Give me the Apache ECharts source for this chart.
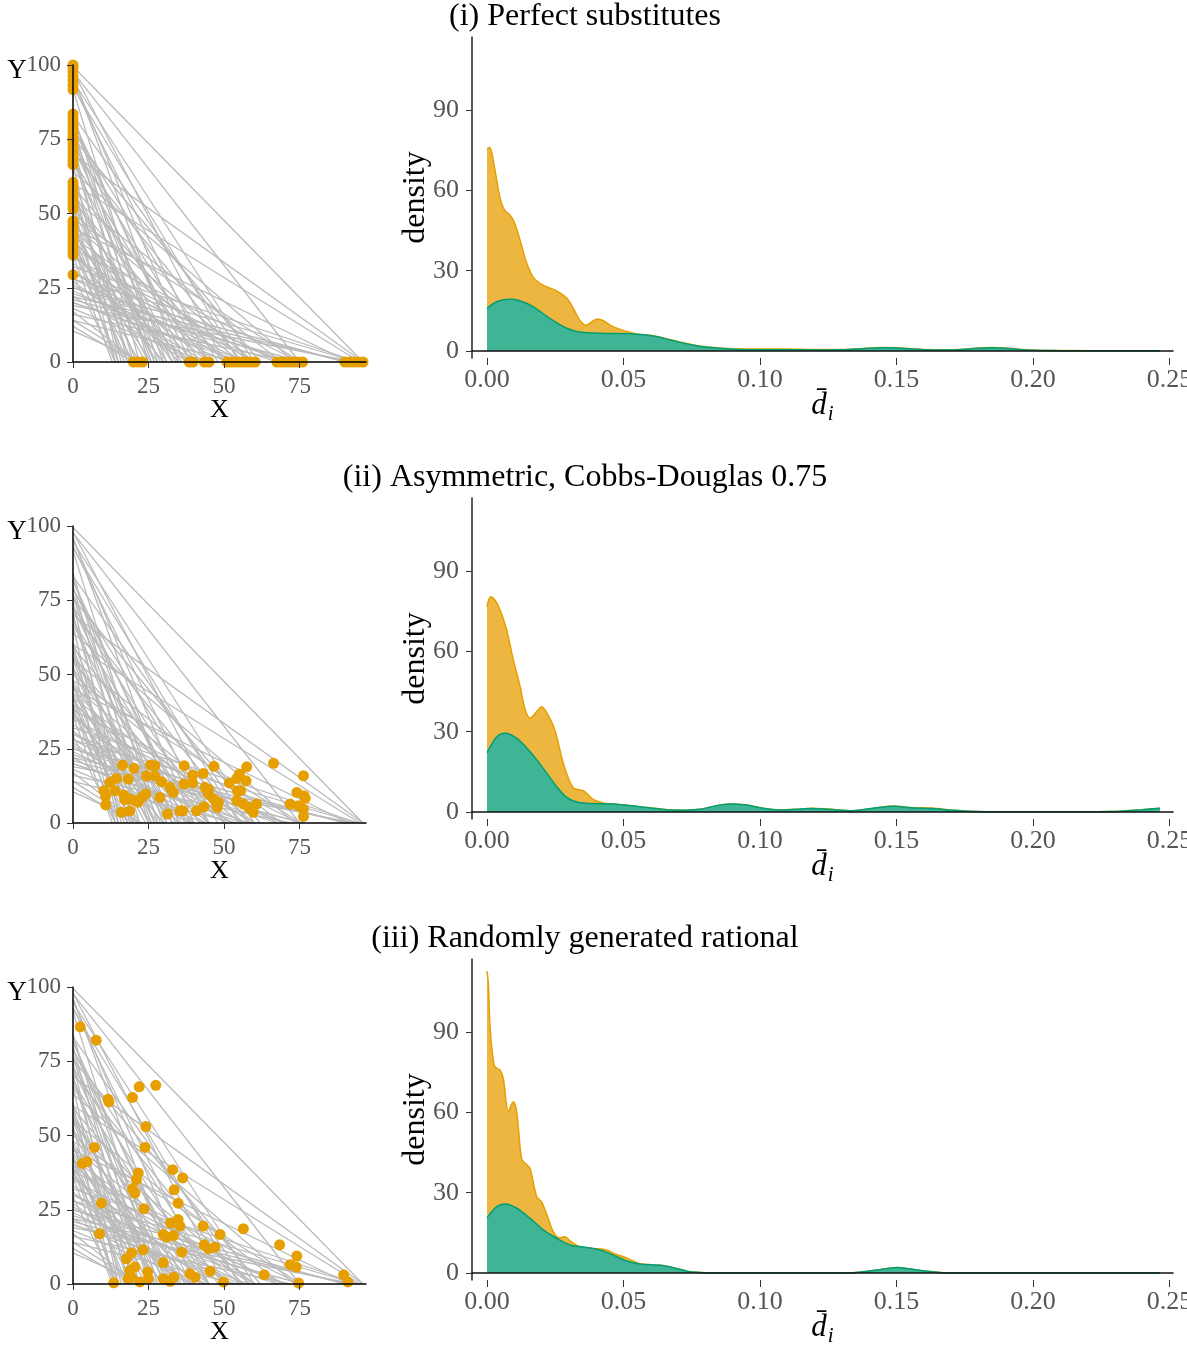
<!DOCTYPE html>
<html><head><meta charset="utf-8">
<script src="https://cdn.jsdelivr.net/npm/echarts/dist/echarts.min.js"></script>
<style>html,body{margin:0;padding:0;background:#fff;overflow:hidden}#c{width:1187px;height:1346px}</style>
</head><body><div id="c"></div>
<script>
// ---------------- data ----------------
const panelTitles = ['(i) Perfect substitutes', '(ii) Asymmetric, Cobbs-Douglas 0.75', '(iii) Randomly generated rational'];
const leftXTicks = [0, 25, 50, 75];
const leftYTicks = [0, 25, 50, 75, 100];
const densXTicks = [0, 0.05, 0.10, 0.15, 0.20, 0.25];
const densYTicks = [0, 30, 60, 90];

// budget lines: y-intercept and x-intercept
const budgetYInt = [29.4,36,37.3,38.6,40,41.3,42.6,44,45.3,46.6,47.5,51.5,53,54.5,56,57.5,59,60.5,66.5,68,69.5,71,72.5,74,75.5,77,78.5,80,81.5,83,84,91.7,93.2,94.7,96.2,97.7,99.5,
  37.5,39,43,46,52,55,58,60,67,70,73,76,79,82,92.5,95.5,98,
  12,17,10.5,22,31,18,36,24,40,14,46,28,20,50,33,23,55,30,16,64,38,21,25,45,19,32,70,
  14,27,26,30,20,42,35,25,48,22,28,60];
const budgetXInt = [14,13,30,15,22,35,14,28,40,17,33,25,14,45,31,19,50,27,15,42,26,56,34,18,62,30,48,22,37,58,25,28,45,60,35,75,96,
  20,26,18,24,36,21,29,16,33,20,45,27,39,31,55,40,50,
  20,21.5,23,38.5,39.5,43.5,45,51,52.5,54,55.5,57,58.5,60,60.5,67.5,69,70.5,72,73.5,75,76,90,91.5,93,94.5,96,
  22,39,44,53,56,59,68,71,75.5,91,94,95];

// (i) choices lying on the axes
const subsOnY = [29.4,36,37.3,38.6,39.9,41.2,42.5,43.8,45.1,46.4,47.5,51.5,52.8,54.1,55.4,56.7,58,59.3,60.5,66.5,67.8,69.1,70.4,71.7,73,74.3,75.6,76.9,78.2,79.5,80.8,82.1,83.5,91.7,93.2,94.7,96.2,97.7,99.2,100];
const subsOnX = [20,21.5,23,38.5,39.7,43.5,45,51,52.3,53.6,54.9,56.2,57.5,58.8,60.3,67.5,68.9,70.3,71.7,73.1,74.5,76,90,91.5,93,94.5,96];

// (ii) choices
const cdPoints = [[16.4,19.5],[20.2,18.4],[18.3,14.8],[14.4,15.0],[12.2,13.7],[10.2,10.9],[10.8,9.0],[10.8,6.1],[13.8,10.9],[16.8,9.4],[17.1,7.8],[18.8,8.1],[20.5,7.5],[21.6,7.0],[22.7,8.6],[24.1,9.8],[16.0,3.6],[18.8,4.1],[24.3,15.9],[25.7,19.5],[27.1,19.3],[27.1,15.9],[29.3,13.9],[28.8,8.6],[32.1,12.0],[33.2,10.3],[31.3,3.0],[35.4,4.1],[36.3,4.1],[36.8,19.3],[36.7,13.1],[39.6,16.1],[39.6,13.5],[40.9,4.1],[43.4,5.5],[43.1,16.7],[43.7,12.0],[44.8,11.4],[44.8,9.8],[46.7,19.1],[46.5,8.1],[47.6,6.4],[47.8,5.3],[48.1,7.0],[51.8,13.5],[54.2,15.0],[55.1,16.5],[57.5,18.9],[57.3,14.2],[54.4,10.9],[55.5,10.9],[54.2,7.5],[56.4,6.4],[58.1,5.3],[59.7,3.6],[60.8,6.4],[66.4,20.1],[71.9,6.4],[74.1,10.3],[74.7,5.8],[76.3,15.9],[76.5,9.2],[76.9,8.3],[76.3,4.7],[76.3,2.2]];

// (iii) choices
const randPoints = [[2.4,86.6],[7.7,82.1],[21.9,66.4],[27.4,66.9],[11.6,62.2],[11.9,61.3],[19.7,62.8],[24.1,53.0],[23.8,46.0],[7.1,46.0],[3.1,40.6],[4.6,41.2],[21.6,37.4],[21.0,35.1],[19.7,32.0],[20.5,30.6],[9.4,27.2],[23.5,25.3],[33.0,38.5],[36.3,35.7],[33.5,31.7],[34.8,27.2],[34.8,21.7],[32.3,20.5],[35.4,19.5],[29.9,16.7],[31.0,15.8],[33.2,16.3],[8.8,16.9],[43.1,19.5],[48.7,16.7],[56.4,18.6],[43.4,13.2],[44.8,11.9],[47.0,12.4],[68.4,13.2],[74.1,9.4],[71.9,6.5],[73.9,5.7],[36.0,10.7],[23.2,11.5],[19.4,10.5],[17.7,8.5],[20.5,5.7],[18.8,4.6],[18.3,1.8],[19.4,2.3],[22.1,0.7],[24.7,4.0],[24.9,1.8],[29.9,7.2],[29.9,1.8],[32.1,0.9],[33.4,2.3],[38.7,3.5],[40.4,2.3],[45.4,4.3],[49.8,0.7],[13.5,0.4],[63.3,3.1],[74.7,0.3],[89.6,3.1],[91.0,0.7]];

// densities of d_i  [d, density]
const dens1Orange = [[0,75.5],[0.001,76],[0.0025,70],[0.0048,57],[0.0065,52.5],[0.0084,50.8],[0.0098,48.5],[0.0109,45.5],[0.0125,40],[0.0145,33],[0.017,27.5],[0.0205,24.6],[0.0255,22.5],[0.0292,19.8],[0.0316,16],[0.034,11.5],[0.0362,9.6],[0.0385,11],[0.0405,12],[0.0425,11.4],[0.0463,9],[0.0512,7.3],[0.0548,6.4],[0.061,5.7],[0.068,4.0],[0.0756,2.3],[0.083,1.3],[0.09,0.9],[0.10,0.8],[0.11,0.8],[0.12,0.6],[0.13,0.6],[0.14,1.1],[0.145,1.3],[0.15,1.2],[0.16,0.6],[0.17,0.5],[0.18,1.1],[0.185,1.3],[0.19,1.1],[0.20,0.4],[0.21,0.2],[0.22,0.15],[0.24,0.1],[0.2465,0.1]];
const dens1Green = [[0,16],[0.0036,18.4],[0.0084,19.3],[0.012,18.8],[0.017,16.5],[0.023,12.2],[0.0292,8.5],[0.034,7.1],[0.0414,6.6],[0.0537,6.4],[0.061,5.6],[0.068,3.9],[0.0756,2.2],[0.083,1.2],[0.09,0.7],[0.10,0.5],[0.11,0.5],[0.12,0.4],[0.13,0.5],[0.14,1.0],[0.145,1.2],[0.15,1.1],[0.16,0.5],[0.17,0.4],[0.18,1.0],[0.185,1.2],[0.19,1.0],[0.20,0.3],[0.21,0.15],[0.22,0.1],[0.24,0.1],[0.2465,0.1]];
const dens2Orange = [[0,76.7],[0.0013,80.4],[0.003,79],[0.0048,75.5],[0.0072,68],[0.0096,57],[0.0121,47],[0.0139,38.5],[0.0158,35],[0.0182,37.5],[0.02,39.3],[0.0219,37],[0.0249,30.5],[0.028,18],[0.0316,9],[0.0353,8],[0.039,4.6],[0.0426,3.4],[0.0463,3.0],[0.056,2.0],[0.068,0.8],[0.073,0.7],[0.078,1.0],[0.084,2.4],[0.089,3.0],[0.095,2.6],[0.101,1.5],[0.107,0.8],[0.113,1.0],[0.119,1.4],[0.125,1.1],[0.134,0.5],[0.142,1.5],[0.149,2.3],[0.155,1.7],[0.163,1.5],[0.17,0.8],[0.176,0.3],[0.19,0.1],[0.21,0.1],[0.229,0.2],[0.24,0.9],[0.2465,1.4]];
const dens2Green = [[0,22.2],[0.0036,28.1],[0.0066,29.4],[0.0109,27.5],[0.0158,22.5],[0.0206,16.3],[0.0255,9.5],[0.0292,5.5],[0.034,3.5],[0.0463,3.0],[0.056,2.0],[0.068,0.75],[0.073,0.7],[0.078,1.0],[0.084,2.4],[0.089,3.0],[0.095,2.6],[0.101,1.4],[0.107,0.8],[0.113,1.0],[0.119,1.3],[0.125,1.0],[0.134,0.5],[0.142,1.5],[0.149,2.2],[0.155,1.6],[0.163,1.3],[0.17,0.7],[0.176,0.3],[0.19,0.1],[0.21,0.1],[0.229,0.2],[0.24,0.9],[0.2465,1.4]];
const dens3Orange = [[0,112.8],[0.0005,108],[0.0011,92],[0.002,82],[0.0029,77],[0.0048,75.8],[0.006,72.5],[0.0078,60.3],[0.0096,64],[0.0109,60],[0.0127,42.5],[0.0145,40.5],[0.0158,39],[0.0182,28.5],[0.02,26.6],[0.0222,21],[0.0243,15.4],[0.0265,13.2],[0.0286,13.6],[0.0304,12],[0.034,9.8],[0.0414,9.0],[0.0438,8.6],[0.047,7],[0.05,6.1],[0.0536,4.5],[0.056,3.5],[0.0634,2.9],[0.0683,2.0],[0.0744,0.5],[0.078,0.2],[0.0805,0.05],[0.09,0],[0.13,0],[0.134,0.1],[0.142,1.0],[0.1505,2.1],[0.158,1.0],[0.167,0.1],[0.17,0],[0.2465,0]];
const dens3Green = [[0,20.7],[0.0036,24.8],[0.0066,25.8],[0.0109,24.2],[0.0158,20.4],[0.0206,16.1],[0.0255,13],[0.0304,10.5],[0.0353,9.7],[0.0414,8.6],[0.0463,6.7],[0.0512,4.5],[0.056,3.4],[0.0634,2.9],[0.0683,2.0],[0.0744,0.5],[0.078,0.2],[0.0805,0.05],[0.09,0],[0.13,0],[0.134,0.1],[0.142,1.0],[0.1505,2.1],[0.158,1.0],[0.167,0.1],[0.17,0],[0.2465,0]];

// ---------------- build ----------------
const FONT = 'Liberation Serif';
const ORANGE = '#E69F00', GREEN = '#009E73';
const ORANGE_FILL = '#ECB641', GREEN_FILL = '#40B595';
const ROW = 461;

const choices = [
  subsOnY.map(v => [0, v]).concat(subsOnX.map(v => [v, 0])),
  cdPoints,
  randPoints
];
const densities = [[dens1Orange, dens1Green], [dens2Orange, dens2Green], [dens3Orange, dens3Green]];
const budgets = budgetYInt.map((a, i) => ({ coords: [[0, a], [budgetXInt[i], 0]] }));

const grid = [], xAxis = [], yAxis = [], series = [], graphic = [];
const tickLab = (size) => ({ fontFamily: FONT, fontSize: size, color: '#555' });

for (let r = 0; r < 3; r++) {
  const off = r * ROW;
  grid.push({ left: 73, top: 65 + off, width: 293, height: 297, containLabel: false, outerBoundsMode: 'none' });
  grid.push({ left: 472, top: 37 + off, width: 701, height: 321, containLabel: false, outerBoundsMode: 'none' });

  // left panel axes
  xAxis.push({
    gridIndex: 2 * r, type: 'value', min: 0, max: 97, z: 5,
    name: 'X', nameLocation: 'middle', nameGap: 35, nameMoveOverlap: false,
    nameTextStyle: { fontFamily: FONT, fontSize: 26, color: '#000' },
    axisLine: { show: true, onZero: false, lineStyle: { color: '#000', width: 1.5 } },
    axisTick: { show: true, customValues: leftXTicks, length: 6, lineStyle: { color: '#333', width: 1 } },
    axisLabel: Object.assign({ customValues: leftXTicks, margin: 13 }, tickLab(23)),
    splitLine: { show: false }
  });
  yAxis.push({
    gridIndex: 2 * r, type: 'value', min: 0, max: 100, z: 5,
    axisLine: { show: true, onZero: false, lineStyle: { color: '#000', width: 1.5 } },
    axisTick: { show: true, customValues: leftYTicks, length: 6, lineStyle: { color: '#333', width: 1 } },
    axisLabel: Object.assign({ customValues: leftYTicks, margin: 12 }, tickLab(23)),
    splitLine: { show: false }
  });

  // density panel axes
  xAxis.push({
    gridIndex: 2 * r + 1, type: 'value', min: -0.0055, max: 0.2513, position: 'bottom',
    name: '{d|d\u0304}{s|i}', nameLocation: 'middle', nameGap: 31, nameMoveOverlap: false,
    nameTextStyle: {
      rich: {
        d: { fontFamily: FONT, fontStyle: 'italic', fontSize: 31, color: '#000', lineHeight: 34 },
        s: { fontFamily: FONT, fontStyle: 'italic', fontSize: 21, color: '#000', lineHeight: 20, padding: [16, 0, 0, 1] }
      }
    },
    axisLine: { show: false, onZero: false },
    axisTick: { show: true, customValues: densXTicks, length: 7, lineStyle: { color: '#333', width: 1 } },
    axisLabel: Object.assign({ customValues: densXTicks, margin: 9, formatter: v => v.toFixed(2) }, tickLab(26)),
    splitLine: { show: false }
  });
  xAxis.push({
    gridIndex: 2 * r + 1, type: 'value', min: -0.0055, max: 0.2513, position: 'bottom', z: 5,
    axisLine: { show: true, onZero: true, lineStyle: { color: '#111', width: 1.5 } },
    axisTick: { show: false }, axisLabel: { show: false }, splitLine: { show: false }
  });
  yAxis.push({
    gridIndex: 2 * r + 1, type: 'value', min: -2.6, max: 117.3,
    name: 'density', nameLocation: 'middle', nameGap: 40, nameMoveOverlap: false,
    nameTextStyle: { fontFamily: FONT, fontSize: 32, color: '#000' },
    axisLine: { show: true, onZero: false, lineStyle: { color: '#222', width: 1.5 } },
    axisTick: { show: true, customValues: densYTicks, length: 6, lineStyle: { color: '#333', width: 1 } },
    axisLabel: Object.assign({ customValues: densYTicks, margin: 13 }, tickLab(26)),
    splitLine: { show: false }
  });

  const xL = 3 * r, xD = 3 * r + 1, yL = 2 * r, yD = 2 * r + 1;
  series.push({
    type: 'lines', coordinateSystem: 'cartesian2d', xAxisIndex: xL, yAxisIndex: yL,
    data: budgets, silent: true, z: 1,
    lineStyle: { color: '#BBBBBB', width: 1.3, opacity: 1 }
  });
  series.push({
    type: 'scatter', xAxisIndex: xL, yAxisIndex: yL, data: choices[r], z: 3,
    symbolSize: 11, itemStyle: { color: ORANGE, opacity: 1 }, silent: true
  });
  const [dO, dG] = densities[r];
  series.push({
    type: 'line', xAxisIndex: xD, yAxisIndex: yD, data: dO, z: 2,
    smooth: 0.3, symbol: 'none', silent: true,
    lineStyle: { color: ORANGE, width: 1.5 }, areaStyle: { color: ORANGE_FILL, opacity: 1 }
  });
  series.push({
    type: 'line', xAxisIndex: xD, yAxisIndex: yD, data: dG, z: 3,
    smooth: 0.3, symbol: 'none', silent: true,
    lineStyle: { color: GREEN, width: 1.5 }, areaStyle: { color: GREEN_FILL, opacity: 1 }
  });

  graphic.push({
    type: 'text', x: 585, y: 17 + off, z: 10,
    style: { text: panelTitles[r], fontFamily: FONT, fontSize: 32, fill: '#000',
      align: 'center', verticalAlign: 'middle', textAlign: 'center', textVerticalAlign: 'middle' }
  });
  graphic.push({
    type: 'text', x: 17, y: 71 + off, z: 10,
    style: { text: 'Y', fontFamily: FONT, fontSize: 27, fill: '#000',
      align: 'center', verticalAlign: 'middle', textAlign: 'center', textVerticalAlign: 'middle' }
  });
}

const chart = echarts.init(document.getElementById('c'), null, { renderer: 'canvas' });
chart.setOption({
  backgroundColor: '#fff',
  animation: false,
  grid, xAxis, yAxis, series, graphic
});
</script></body></html>
